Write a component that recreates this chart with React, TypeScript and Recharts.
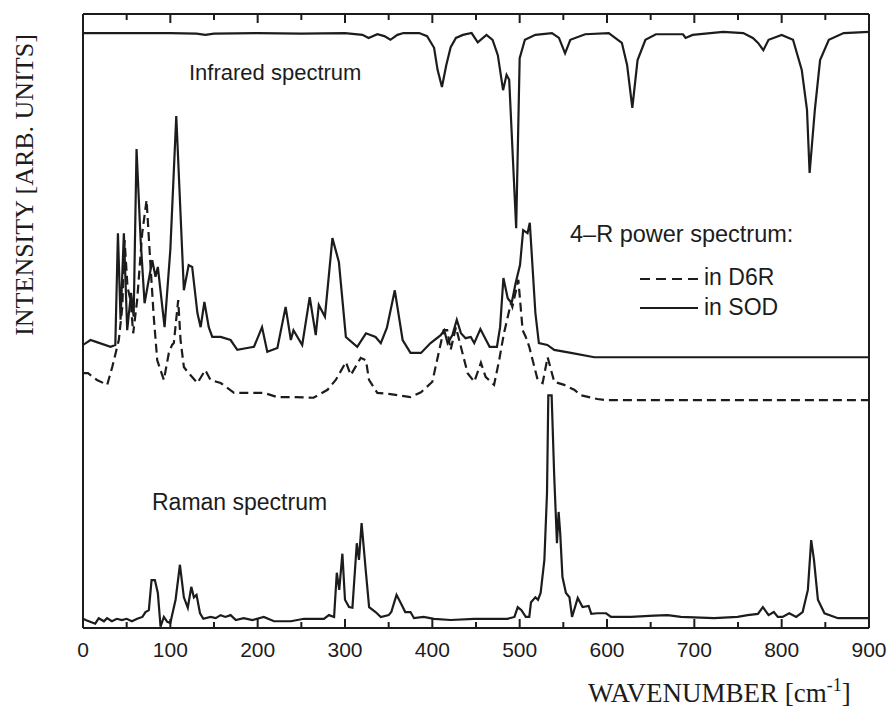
import React from "react"
import { LineChart, Line, XAxis, YAxis } from "recharts"

// wavenumber [cm-1], intensity [arb. units, 0..100 of the frame]
const IR_SPECTRUM: [number, number][] = [
  [0, 96.9], [50, 96.9], [100, 96.9], [130, 96.8], [140, 96.6], [150, 96.8], [200, 96.9],
  [250, 96.8], [300, 96.9], [320, 96.6], [327, 96.1], [337, 96.7], [345, 96.4], [352, 95.8],
  [360, 96.6], [367, 96.9], [385, 96.9], [394, 96.4], [402, 94.5], [406, 90.9], [411, 88.1],
  [416, 91.7], [421, 94.6], [427, 96.1], [435, 96.6], [445, 96.9], [452, 95.4], [462, 96.6],
  [469, 95.8], [475, 93.3], [481, 87.6], [485, 90.1], [488, 89.3], [496, 65.1], [500, 92.8],
  [506, 95.8], [518, 96.6], [537, 96.9], [545, 96.1], [552, 93.6], [558, 95.8], [575, 96.7],
  [602, 96.9], [617, 95.3], [623, 91.7], [629, 84.7], [635, 92.5], [644, 95.8], [656, 96.7],
  [687, 96.7], [690, 96.1], [698, 96.6], [733, 97.1], [756, 96.9], [767, 96.1], [773, 95.3],
  [779, 94.1], [785, 95.8], [800, 96.6], [813, 95.8], [823, 90.9], [829, 84.4], [832, 74.1],
  [838, 84.4], [844, 92.5], [854, 95.8], [871, 96.9], [900, 97.1],
]

const SOD_POWER: [number, number][] = [
  [0, 46.1], [8.6, 46.9], [15, 46.6], [31.5, 45.8], [37, 46.1], [40, 64.3], [43, 50.2],
  [46.8, 64.3], [50.6, 48.5], [55, 54.6], [58, 50.7], [61.3, 78.0], [66, 63.2], [70.5, 52.9],
  [79.3, 59.9], [83, 57.2], [85.7, 58.8], [93.4, 49.0], [100, 61.6], [106.8, 83.4],
  [115.5, 55.0], [121, 59.1], [125, 58.8], [131, 51.3], [134.7, 49.0], [139, 53.1], [144, 49.0],
  [148, 47.4], [157.6, 47.4], [169, 46.9], [176.7, 45.3], [188, 45.6], [195.8, 45.8],
  [205, 49.0], [211, 45.0], [222.6, 45.6], [232, 52.3], [238, 46.9], [241, 48.5], [251, 46.1],
  [259.6, 53.9], [266.5, 47.7], [270, 52.6], [277, 50.7], [285.6, 63.5], [293, 59.6],
  [301, 47.4], [314, 45.8], [324, 48.0], [335, 47.4], [341, 46.4], [348, 48.9], [357, 55.0],
  [366, 46.9], [375, 44.8], [387, 44.8], [398, 46.4], [409.6, 47.7], [413.6, 48.5],
  [417.5, 46.4], [423, 47.7], [428, 50.2], [432.8, 48.0], [438, 47.2], [444, 47.4], [448, 46.4],
  [455, 48.7], [461.5, 46.9], [465.6, 45.8], [474, 45.8], [477.6, 49.0], [481.4, 57.0],
  [486.3, 53.7], [490.8, 52.9], [495.4, 56.2], [500.4, 59.1], [504, 64.8], [509, 64.3],
  [511.6, 66.0], [518, 51.3], [522, 46.4], [531.7, 46.1], [539.6, 45.3], [558.7, 44.8],
  [585.5, 44.1], [600, 44.1], [700, 44.1], [800, 44.1], [900, 44.1],
]

const D6R_POWER: [number, number][] = [
  [0, 41.5], [5.7, 41.5], [16, 40.4], [27.7, 39.6], [33.5, 42.5], [41, 46.9], [45, 52.3],
  [47.6, 63.2], [51, 55.5], [54.4, 53.4], [57.5, 48.0], [62, 53.4], [67.8, 64.3], [72.8, 69.7],
  [77.4, 58.8], [81, 50.7], [85, 43.6], [92.6, 40.4], [98.3, 44.8], [102, 46.1], [104, 46.4],
  [109, 53.4], [111.7, 46.9], [115.5, 42.5], [121, 41.5], [131, 39.9], [140, 42.0], [146, 40.4],
  [157.6, 39.9], [173, 38.3], [188, 38.3], [207, 38.3], [222.6, 37.6], [241.6, 37.6],
  [264, 37.5], [280, 38.8], [289.4, 40.4], [301, 43.3], [306.6, 41.2], [318, 44.0], [324, 43.6],
  [327.5, 40.4], [337, 38.3], [352, 38.1], [375, 37.6], [387, 38.4], [400, 40.1], [408, 45.3],
  [413, 48.5], [417, 48.5], [421, 45.3], [427, 49.0], [432.7, 45.8], [440.4, 41.5], [448, 40.1],
  [455.6, 43.2], [461, 40.9], [470.7, 39.6], [476.5, 43.6], [482, 48.0], [490, 52.9],
  [491.6, 52.3], [498.5, 56.7], [503.4, 48.5], [507, 47.4], [511, 45.8], [520.6, 40.4],
  [526.3, 39.9], [532, 44.1], [539.6, 40.1], [551, 39.6], [562.4, 38.8], [570, 37.9],
  [589, 37.3], [600, 37.1], [700, 37.1], [800, 37.1], [900, 37.1],
]

const RAMAN_SPECTRUM: [number, number][] = [
  [0, 1.5], [3, 1.3], [14, 0.7], [18, 1.6], [24, 1.1], [27.5, 1.6], [33, 1.1], [38.8, 1.5],
  [44.5, 1.3], [50, 1.5], [56, 1.1], [62, 1.5], [68, 1.8], [71.6, 2.6], [75.4, 2.9], [78.5, 7.8],
  [82.3, 7.8], [85.7, 5.7], [88.8, 0.2], [92.6, 1.8], [96.5, 1.0], [100, 0.8], [106, 4.6],
  [111, 10.3], [115.5, 5.0], [120, 3.3], [124, 6.7], [127, 5.0], [130, 5.4], [134, 2.4],
  [137.8, 1.5], [146, 1.8], [152, 1.6], [157.6, 2.1], [163, 1.8], [169, 2.1], [175, 1.3],
  [184, 1.6], [194, 1.3], [207, 1.8], [218.7, 1.1], [238, 1.1], [253, 1.5], [264, 1.5],
  [275.8, 1.5], [281.6, 2.1], [287.5, 1.8], [290.6, 9.0], [293.4, 6.2], [297, 12.1], [300, 4.6],
  [304.6, 3.4], [308.5, 3.3], [313.5, 13.8], [316, 11.1], [319, 17.1], [324, 9.0], [327.6, 3.4],
  [335, 2.6], [341, 1.8], [350, 2.1], [353, 2.6], [359, 5.4], [363.4, 4.2], [369, 2.6],
  [375, 2.6], [379, 1.6], [390, 1.8], [402, 1.5], [421, 1.3], [448, 1.5], [471, 1.5],
  [486, 1.5], [494, 1.8], [497.8, 3.4], [502, 2.9], [507, 1.8], [511, 1.8], [513, 4.2],
  [518, 5.0], [521, 4.6], [524, 5.7], [528.3, 11.1], [531.3, 22.0], [532.8, 37.9], [536.6, 37.9],
  [539.6, 24.6], [542.7, 13.8], [544.6, 18.9], [546.4, 15.5], [549, 8.3], [553, 5.7], [557, 5.0],
  [560, 1.8], [566.5, 4.9], [572, 3.4], [579, 3.6], [582, 2.3], [589, 2.4], [599, 2.4],
  [604.6, 1.8], [627.5, 1.8], [654, 2.0], [669.5, 2.1], [684.5, 1.8], [722.7, 1.6], [749.5, 1.8],
  [761, 2.1], [772.8, 2.3], [778.5, 3.4], [785, 2.1], [791, 2.6], [795.6, 1.8], [801, 1.8],
  [808.7, 2.4], [816.6, 1.8], [824, 2.6], [830, 6.2], [833.8, 14.3], [837, 11.1], [841.5, 4.6],
  [849, 2.4], [864.5, 1.6], [900, 1.6],
]

const X_TICKS = [0, 50, 100, 150, 200, 250, 300, 350, 400, 450, 500, 550, 600, 650, 700, 750, 800, 850, 900]

const INK = "#1c1c1c"
const SANS = "'Liberation Sans', Arial, Helvetica, sans-serif"
const SERIF = "'Liberation Serif', 'Times New Roman', serif"

const toPoints = (pairs: [number, number][]) => pairs.map(([x, v]) => ({ x, v }))

// inward ticks: long on hundreds, short on fifties
function BottomTick(props: any) {
  const x = Number(props.x)
  const y = Number(props.y)
  const major = props.payload.value % 100 === 0
  const len = major ? 9 : 6
  return (
    <g>
      <path d={`M${x},${y}V${y - len}`} stroke={INK} strokeWidth={2} fill="none" />
      {major && (
        <text x={x} y={y + 29} textAnchor="middle" fontFamily={SANS} fontSize={21} fill={INK}>
          {props.payload.value}
        </text>
      )}
    </g>
  )
}

function TopTick(props: any) {
  const x = Number(props.x)
  const y = Number(props.y)
  const len = props.payload.value % 100 === 0 ? 9 : 6
  return <path d={`M${x},${y}V${y + len}`} stroke={INK} strokeWidth={2} fill="none" />
}

export default function App() {
  const frame = { stroke: INK, strokeWidth: 2 }

  return (
    <div style={{ position: "absolute", left: 0, top: 0, width: 891, height: 713, background: "#fff" }}>
      <LineChart width={891} height={713} margin={{ top: 13, right: 21, bottom: 55, left: 82 }}>
        <XAxis
          dataKey="x"
          type="number"
          domain={[0, 900]}
          ticks={X_TICKS}
          interval={0}
          height={30}
          tickSize={0}
          tickMargin={0}
          tickLine={false}
          tick={BottomTick}
          axisLine={frame}
          allowDataOverflow
        />
        <XAxis
          xAxisId="top"
          dataKey="x"
          orientation="top"
          type="number"
          domain={[0, 900]}
          ticks={X_TICKS}
          interval={0}
          height={1}
          tickSize={0}
          tickMargin={0}
          tickLine={false}
          tick={TopTick}
          axisLine={frame}
          allowDataOverflow
        />
        <YAxis type="number" domain={[0, 100]} width={1} tick={false} tickLine={false} axisLine={frame} allowDataOverflow />
        <YAxis
          yAxisId="right"
          orientation="right"
          type="number"
          domain={[0, 100]}
          width={1}
          tick={false}
          tickLine={false}
          axisLine={frame}
        />
        <Line xAxisId="top" data={toPoints(IR_SPECTRUM)} dataKey="v" type="linear" stroke={INK} strokeWidth={2.2} dot={false} isAnimationActive={false} />
        <Line data={toPoints(D6R_POWER)} dataKey="v" type="linear" stroke={INK} strokeWidth={2.2} strokeDasharray="9 5" dot={false} isAnimationActive={false} />
        <Line data={toPoints(SOD_POWER)} dataKey="v" type="linear" stroke={INK} strokeWidth={2.2} dot={false} isAnimationActive={false} />
        <Line data={toPoints(RAMAN_SPECTRUM)} dataKey="v" type="linear" stroke={INK} strokeWidth={2.2} dot={false} isAnimationActive={false} />
      </LineChart>

      <svg width={891} height={713} style={{ position: "absolute", left: 0, top: 0, pointerEvents: "none" }}>
        <text x={189} y={80} fontFamily={SANS} fontSize={22} fill={INK}>Infrared spectrum</text>
        <text x={152} y={510} fontFamily={SANS} fontSize={23} fill={INK}>Raman spectrum</text>
        <text x={570} y={242} fontFamily={SANS} fontSize={23.5} fill={INK}>4–R power spectrum:</text>
        <line x1={640} y1={279} x2={698} y2={279} stroke={INK} strokeWidth={2} strokeDasharray="10 6" />
        <text x={704} y={285} fontFamily={SANS} fontSize={23} fill={INK}>in D6R</text>
        <line x1={640} y1={308} x2={698} y2={308} stroke={INK} strokeWidth={2} />
        <text x={704} y={315} fontFamily={SANS} fontSize={23} fill={INK}>in SOD</text>
        <text
          transform="translate(33,185) rotate(-90)"
          textAnchor="middle"
          fontFamily={SERIF}
          fontSize={26}
          fill={INK}
        >
          INTENSITY [ARB. UNITS]
        </text>
        <text x={588} y={702} fontFamily={SERIF} fontSize={27} fill={INK}>
          WAVENUMBER [cm<tspan dy={-11} fontSize={18}>-1</tspan>
          <tspan dy={11}>]</tspan>
        </text>
      </svg>
    </div>
  )
}
